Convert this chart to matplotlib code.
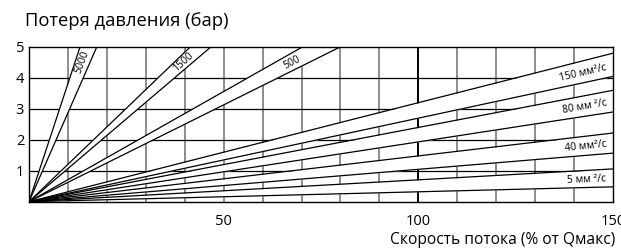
import numpy as np
import matplotlib.pyplot as plt

plt.rcParams['font.family'] = ['Open Sans', 'DejaVu Sans']

# upper bands: x (% Qmax) where each edge reaches 5 bar
upper_labels = ['5000', '1500', '500']
upper_x_at5 = [(13.1, 17.4), (41.4, 46.7), (70.2, 79.9)]

# lower bands: pressure loss (bar) of each edge at 150 % Qmax
lower_labels = ['150 мм²/с', '80 мм ²/с', '40 мм²/с', '5 мм ²/с']
lower_at150 = [(4.8, 4.05), (3.6, 2.9), (2.22, 1.57), (1.06, 0.48)]

xticks = [50, 100, 150]
yticks = [1, 2, 3, 4, 5]

fig = plt.figure(figsize=(6.21, 2.49), dpi=100)
ax = fig.add_axes([29/621, 1 - 201.7/249, (613-29)/621, (201.7-47)/249])
ax.set_xlim(0, 150)
ax.set_ylim(0, 5)

# grid
for gx in range(10, 150, 10):
    if gx == 100:
        ax.axvline(gx, color='black', lw=1.4, zorder=1)
    else:
        ax.axvline(gx, color='#6e6e6e', lw=1.1, zorder=1)
for gy in range(1, 5):
    ax.axhline(gy, color='black', lw=0.9, zorder=1)

x = np.array([0.0, 150.0])

def band(s1, s2):
    y1 = s1 * x
    y2 = s2 * x
    ax.fill_between(x, y1, y2, color='white', lw=0, zorder=2)
    ax.plot(x, y1, color='black', lw=0.9, zorder=3)
    ax.plot(x, y2, color='black', lw=0.9, zorder=3)

def angle(slope):
    p0 = ax.transData.transform((0, 0))
    p1 = ax.transData.transform((10, 10 * slope))
    return np.degrees(np.arctan2(p1[1] - p0[1], p1[0] - p0[0]))

for lab, (xa, xb) in zip(upper_labels, upper_x_at5):
    sa, sb = 5 / xa, 5 / xb
    band(sa, sb)
    sm = (sa + sb) / 2
    yl = 4.5
    xl = (yl / sa + yl / sb) / 2
    ax.text(xl, yl, lab, fontsize=7.5, rotation=angle(sm), rotation_mode='anchor',
            ha='center', va='center', zorder=4)

for lab, (va_, vb_) in zip(lower_labels, lower_at150):
    sa, sb = va_ / 150, vb_ / 150
    band(sa, sb)
    sm = (sa + sb) / 2
    xl = 148.3
    ax.text(xl, sm * xl - 0.03, lab, fontsize=7.5, rotation=angle(sm), rotation_mode='anchor',
            ha='right', va='center', zorder=4)

for s in ax.spines.values():
    s.set_color('black')
    s.set_linewidth(1.0)
    s.set_zorder(5)

ax.set_xticks(xticks)
ax.set_yticks(yticks)
ax.tick_params(length=0, labelsize=10.5, pad=3.5)
ax.tick_params(axis='x', pad=9)

fig.text(25/621, 1 - 21/249, 'Потеря давления (бар)', fontsize=13.2, ha='left', va='center')
fig.text(615/621, 1 - 240/249, 'Скорость потока (% от Qмакс)', fontsize=11.2, ha='right', va='center')

fig.savefig('out.png', dpi=100)
